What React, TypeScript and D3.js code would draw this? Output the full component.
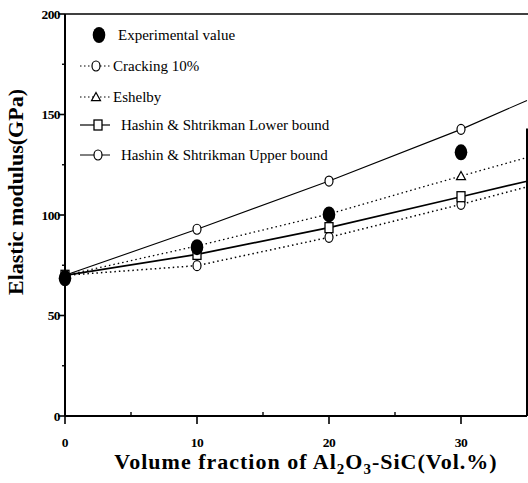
import React, { useEffect } from "react";
import * as d3 from "d3";

const W = 528;
const H = 483;

// x positions (Vol.%) for the model curves; markers only at the measured compositions
const lineX = [0, 10, 20, 30, 35];
const markX = [0, 10, 20, 30];

const expValues = [68.5, 84, 100.3, 131.2];
const crackingValues = [70, 74.8, 88.9, 105.3, 114];
const eshelbyValues = [70, 84.6, 100.5, 119.4, 128.6];
const lowerValues = [70, 80.4, 93.7, 109.1, 116.8];
const upperValues = [70, 92.9, 116.9, 142.6, 157];

const xTicks = [0, 10, 20, 30];
const xMinor = [5, 15, 25];
const yTicks = [0, 50, 100, 150, 200];
const yMinor = [25, 75, 125, 175];

const legendLabels = [
  "Experimental value",
  "Cracking 10%",
  "Eshelby",
  "Hashin & Shtrikman Lower bound",
  "Hashin & Shtrikman Upper bound",
];

const x = d3.scaleLinear().domain([0, 35]).range([65, 527]);
const y = d3.scaleLinear().domain([0, 200]).range([416, 14]);

const FONT = "'Liberation Serif', 'Times New Roman', Times, serif";

type Marker = "circle" | "triangle" | "square" | "filled";

function MarkerShape({ kind, cx, cy }: { kind: Marker; cx: number; cy: number }) {
  if (kind === "filled")
    return <ellipse cx={cx} cy={cy} rx={6.3} ry={8} fill="#000" />;
  if (kind === "circle")
    return <ellipse cx={cx} cy={cy} rx={4} ry={5} fill="#fff" stroke="#000" strokeWidth={1.2} />;
  if (kind === "square")
    return <rect x={cx - 4} y={cy - 5} width={8} height={10} fill="#fff" stroke="#000" strokeWidth={1.3} />;
  const s = 4.5;
  return (
    <path
      d={`M${cx},${cy - s}L${cx + s},${cy + s * 0.8}L${cx - s},${cy + s * 0.8}Z`}
      fill="#fff"
      stroke="#000"
      strokeWidth={1.2}
    />
  );
}

const series = [
  { values: crackingValues, marker: "circle" as Marker, width: 1.5, dash: "1.5,3" },
  { values: eshelbyValues, marker: "triangle" as Marker, width: 1.3, dash: "1.5,3" },
  { values: lowerValues, marker: "square" as Marker, width: 1.7, dash: "" },
  { values: upperValues, marker: "circle" as Marker, width: 1.1, dash: "" },
];

export default function App() {
  useEffect(() => {
    document.body.style.margin = "0";
  }, []);

  const line = d3
    .line<number>()
    .x((_, i) => x(lineX[i]))
    .y((d) => y(d));

  const legendRows = [
    { y: 35, marker: "filled" as Marker, line: false, dash: "", width: 1, textX: 118, mx: 99 },
    { y: 66, marker: "circle" as Marker, line: true, dash: "1.5,2.5", width: 1.1, textX: 113, mx: 96 },
    { y: 97, marker: "triangle" as Marker, line: true, dash: "1.5,2.5", width: 1.1, textX: 113, mx: 96 },
    { y: 125, marker: "square" as Marker, line: true, dash: "", width: 1.2, textX: 121, mx: 98 },
    { y: 155, marker: "circle" as Marker, line: true, dash: "", width: 1, textX: 121, mx: 98 },
  ];

  return (
    <svg width={W} height={H} style={{ display: "block", background: "#fff" }} fontFamily={FONT}>
      <rect x={0} y={0} width={W} height={H} fill="#fff" />

      {/* frame */}
      <line x1={x(0)} x2={x(0)} y1={y(0)} y2={y(200)} stroke="#000" strokeWidth={2} />
      <line x1={x(0)} x2={W} y1={y(200)} y2={y(200)} stroke="#000" strokeWidth={1.5} />
      <line x1={x(0)} x2={x(35)} y1={y(0)} y2={y(0)} stroke="#000" strokeWidth={2} />
      <line x1={x(35)} x2={x(35)} y1={y(0)} y2={y(143)} stroke="#000" strokeWidth={2} />

      {/* y ticks */}
      {yTicks.map((t) => (
        <g key={"yt" + t}>
          <line x1={x(0) - 7} x2={x(0)} y1={y(t)} y2={y(t)} stroke="#000" strokeWidth={1.6} />
          <text
            x={x(0) - 5}
            y={y(t)}
            dy="0.35em"
            textAnchor="end"
            fontSize={13.5}
            fontWeight="bold"
            fontFamily={FONT}
            letterSpacing={-0.6}
          >
            {t}
          </text>
        </g>
      ))}
      {yMinor.map((t) => (
        <line key={"ym" + t} x1={x(0) - 3} x2={x(0)} y1={y(t)} y2={y(t)} stroke="#000" strokeWidth={1.4} />
      ))}

      {/* x ticks */}
      {xTicks.map((t) => (
        <g key={"xt" + t}>
          <line x1={x(t)} x2={x(t)} y1={y(0)} y2={y(0) + 8} stroke="#000" strokeWidth={1.6} />
          <text
            x={x(t)}
            y={y(0) + 31}
            textAnchor="middle"
            fontSize={13.5}
            fontWeight="bold"
            fontFamily={FONT}
            letterSpacing={-0.4}
          >
            {t}
          </text>
        </g>
      ))}
      {xMinor.map((t) => (
        <line key={"xm" + t} x1={x(t)} x2={x(t)} y1={y(0)} y2={y(0) - 4} stroke="#000" strokeWidth={1.4} />
      ))}

      {/* axis titles */}
      <text
        transform={`translate(23,192) rotate(-90)`}
        textAnchor="middle"
        fontSize={22}
        fontWeight="bold"
        fontFamily={FONT}
      >
        Elastic modulus(GPa)
      </text>
      <text
        x={306}
        y={469}
        textAnchor="middle"
        fontSize={22}
        fontWeight="bold"
        fontFamily={FONT}
        letterSpacing={1}
      >
        Volume fraction of Al
        <tspan dy={5} fontSize={15}>2</tspan>
        <tspan dy={-5}>O</tspan>
        <tspan dy={5} fontSize={15}>3</tspan>
        <tspan dy={-5}>-SiC(Vol.%)</tspan>
      </text>

      {/* series lines */}
      <g>
        {series.map((s, i) => (
          <path
            key={"l" + i}
            d={line(s.values) || ""}
            fill="none"
            stroke="#000"
            strokeWidth={s.width}
            strokeDasharray={s.dash || undefined}
          />
        ))}
      </g>

      {/* markers */}
      <g>
        {series.map((s, i) =>
          markX.map((mx, j) => (
            <MarkerShape key={`m${i}-${j}`} kind={s.marker} cx={x(mx)} cy={y(s.values[j])} />
          ))
        )}
        {expValues.map((v, j) => (
          <MarkerShape key={"e" + j} kind="filled" cx={x(markX[j])} cy={y(v)} />
        ))}
      </g>

      {/* legend */}
      <g>
        {legendRows.map((r, i) => (
          <g key={"lg" + i}>
            {r.line && (
              <line
                x1={80}
                x2={110}
                y1={r.y}
                y2={r.y}
                stroke="#000"
                strokeWidth={r.width}
                strokeDasharray={r.dash || undefined}
              />
            )}
            <MarkerShape kind={r.marker} cx={r.mx} cy={r.y} />
            <text x={r.textX} y={r.y} dy="0.33em" fontSize={15} fontFamily={FONT}>
              {legendLabels[i]}
            </text>
          </g>
        ))}
      </g>
    </svg>
  );
}
